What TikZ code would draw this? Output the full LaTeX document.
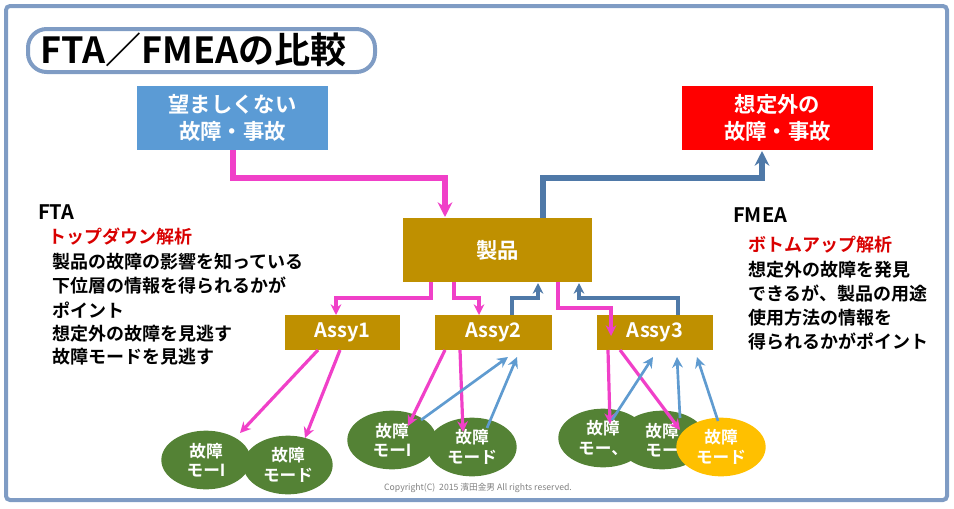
\documentclass[tikz,border=0pt]{standalone}
\usepackage{fontspec}
\setmainfont{Noto Sans CJK JP}[BoldFont={Noto Sans CJK JP Bold}]
\usetikzlibrary{arrows.meta,shapes.geometric}
\definecolor{frame}{HTML}{7F9CC4}
\definecolor{bluebox}{HTML}{5B9BD5}
\definecolor{gold}{HTML}{BF9000}
\definecolor{pinkc}{HTML}{F040C8}
\definecolor{bluec}{HTML}{4F79A8}
\definecolor{lblue}{HTML}{5F9BD0}
\definecolor{green}{HTML}{548235}
\definecolor{yel}{HTML}{FFC000}
\begin{document}
\begin{tikzpicture}[x=0.75pt,y=-0.75pt,
  box/.style={draw=none,text=white,font=\fontsize{16}{20}\selectfont\bfseries,align=center,inner sep=0},
  ell/.style={ellipse,fill=green,text=white,font=\fontsize{12.5}{14.5}\selectfont\bfseries,align=center,minimum width=67pt,minimum height=44pt,inner sep=0},
  txt/.style={anchor=west,font=\fontsize{13.5}{16}\selectfont\bfseries,inner sep=0},
  pk/.style={pinkc,line width=2.4pt,-{Stealth[length=8pt,width=8pt]}},
  pkt/.style={pinkc,line width=4pt,-{Stealth[length=11pt,width=11pt]}},
  bl/.style={bluec,line width=2.4pt,-{Stealth[length=8pt,width=8pt]}},
  blt/.style={bluec,line width=4pt,-{Stealth[length=11pt,width=11pt]}},
  lb/.style={lblue,line width=2pt,-{Stealth[length=8pt,width=8pt]}}]
\useasboundingbox (0,0) rectangle (954,508);
\draw[frame,line width=3pt,rounded corners=3pt] (6,6) rectangle (947,500);
\draw[frame,line width=3pt,rounded corners=14pt] (28,29) rectangle (375,72);
\node[font=\fontsize{27}{30}\selectfont\bfseries,anchor=west,inner sep=0] (title) at (40,50) {FTA／FMEAの比較};
\fill[bluebox] (137,86) rectangle (328,150);
\node[box] (ub) at (232.5,118) {望ましくない\\故障・事故};
\fill[red] (682,86) rectangle (873,150);
\node[box] (rb) at (777.5,118) {想定外の\\故障・事故};
\fill[gold] (403,218) rectangle (592,282);
\node[box] (prod) at (497.5,250) {製品};
\fill[gold] (285,315) rectangle (400,350); \node[box,font=\fontsize{15}{17}\selectfont\bfseries] (a1) at (342.5,332.5) {Assy1};
\fill[gold] (435,315) rectangle (552,350); \node[box,font=\fontsize{15}{17}\selectfont\bfseries] (a2) at (493.5,332.5) {Assy2};
\fill[gold] (597,315) rectangle (713,350); \node[box,font=\fontsize{15}{17}\selectfont\bfseries] (a3) at (655,332.5) {Assy3};
% top arrows
\draw[pkt] (233,150) |- (445,178) -- (445,217);
\draw[blt] (543,218) |- (762,178) -- (762,151);
% product to assy
\draw[pk] (431,282) |- (336,298) -- (336,315);
\draw[pk] (454,282) |- (479,298) -- (479,315);
\draw[bl] (512,315) |- (538,298) -- (538,283);
\draw[pk] (558,282) |- (611,308) -- (611,336);
\draw[bl] (678,315) |- (579,298) -- (579,283);
% ellipses
\node[ell] (e1) at (206,460) {故障\\モーI};
\node[ell] (e2) at (288,465) {故障\\モード};
\node[ell] (e3) at (392,440) {故障\\モーI};
\node[ell] (e4) at (472,447) {故障\\モード};
\node[ell] (e5) at (603,438) {故障\\モー、};
\node[ell] (e6) at (662,440) {故障\\モー};
\node[ell,fill=yel] (e7) at (721,447) {故障\\モード};
\draw[pk] (318,350) -- (240,433);
\draw[pk] (340,350) -- (305,438);
\draw[pk] (445,350) -- (408,426);
\draw[pk] (460,350) -- (463,432);
\draw[lb] (421,420) -- (508,357);
\draw[lb] (487,428) -- (517,357);
\draw[pk] (608,350) -- (610,424);
\draw[pk] (620,350) -- (680,430);
\draw[lb] (612,420) -- (653,357);
\draw[lb] (680,418) -- (677,357);
\draw[lb] (718,421) -- (697,357);
% texts
\node[txt,font=\fontsize{15}{17}\selectfont\bfseries] (fta) at (38,212) {FTA};
\node[txt,text=red!85!black] (td) at (48,237) {トップダウン解析};
\node[txt] (l1) at (52,262) {製品の故障の影響を知っている};
\node[txt] (l2) at (52,286) {下位層の情報を得られるかが};
\node[txt] (l3) at (52,310) {ポイント};
\node[txt] (l4) at (52,334) {想定外の故障を見逃す};
\node[txt] (l5) at (52,357) {故障モードを見逃す};
\node[txt,font=\fontsize{15}{17}\selectfont\bfseries] (fmea) at (733,215) {FMEA};
\node[txt,text=red!85!black] (bu) at (748,245) {ボトムアップ解析};
\node[txt] (r1) at (748,270) {想定外の故障を発見};
\node[txt] (r2) at (748,294) {できるが、製品の用途};
\node[txt] (r3) at (748,318) {使用方法の情報を};
\node[txt] (r4) at (748,342) {得られるかがポイント};
\node[text=gray,font=\fontsize{6.5}{8}\selectfont,inner sep=0] (cp) at (478,488) {Copyright(C)\ \ 2015 濱田金男 All rights reserved.};
\end{tikzpicture}
\end{document}
